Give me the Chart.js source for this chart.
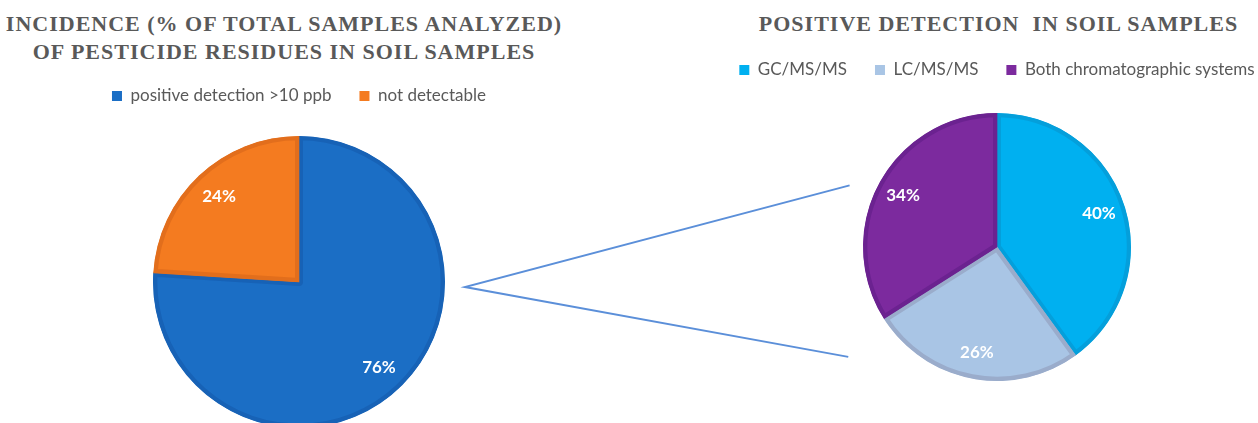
<!DOCTYPE html>
<html>
<head>
<meta charset="utf-8">
<script src="https://cdn.jsdelivr.net/npm/chart.js@4.4.0/dist/chart.umd.min.js"></script>
<style>
    html, body { margin: 0; padding: 0; background: #fff; }
    body { width: 1258px; height: 423px; overflow: hidden; position: relative; }
    .title {
        position: absolute;
        top: 10px;
        text-align: center;
        font: bold 22px "Liberation Serif", serif;
        letter-spacing: 1px;
        line-height: 28px;
        color: #595959;
        white-space: nowrap;
    }
    #titleLeft { left: 0; width: 568px; }
    #titleRight { left: 740px; width: 517px; }
    .box { position: absolute; top: 0; }
    #boxLeft { left: 0; width: 598px; height: 460px; }
    #boxRight { left: 700px; width: 594px; height: 420px; }
    #connector { position: absolute; left: 0; top: 0; }
</style>
</head>
<body>
<div class="title" id="titleLeft">INCIDENCE (% OF TOTAL SAMPLES ANALYZED)<br>OF PESTICIDE RESIDUES IN SOIL SAMPLES</div>
<div class="title" id="titleRight">POSITIVE DETECTION&nbsp; IN SOIL SAMPLES</div>
<div class="box" id="boxLeft"><canvas id="incidenceChart"></canvas></div>
<div class="box" id="boxRight"><canvas id="detectionChart"></canvas></div>
<canvas id="connector" width="1258" height="423"></canvas>

<script>
const incidenceLabels = ['positive detection >10 ppb', 'not detectable'];
const incidenceValues = [76, 24];
const incidenceColors = ['#1b6ec5', '#f47b20'];
const incidenceBorders = ['#1762b6', '#e26e1c'];

const detectionLabels = ['GC/MS/MS', 'LC/MS/MS', 'Both chromatographic systems'];
const detectionValues = [40, 26, 34];
const detectionColors = ['#00b0f0', '#a9c5e5', '#7c2a9e'];
const detectionBorders = ['#049fdb', '#9aaccb', '#6b2290'];

const legendFont = { family: 'Lato', size: 17 };

// white percentage text inside each slice
const sliceLabels = {
    id: 'sliceLabels',
    afterDatasetsDraw(chart) {
        const ctx = chart.ctx;
        const meta = chart.getDatasetMeta(0);
        const values = chart.data.datasets[0].data;
        ctx.save();
        ctx.font = 'bold 17px Lato';
        ctx.fillStyle = '#ffffff';
        ctx.textAlign = 'center';
        ctx.textBaseline = 'middle';
        meta.data.forEach((arc, i) => {
            const { x, y, startAngle, endAngle, outerRadius } =
                arc.getProps(['x', 'y', 'startAngle', 'endAngle', 'outerRadius'], true);
            const mid = (startAngle + endAngle) / 2;
            const r = outerRadius * 0.8;
            ctx.fillText(values[i] + '%', x + Math.cos(mid) * r, y + Math.sin(mid) * r);
        });
        ctx.restore();
    }
};

const plainBoxes = (chart) => {
    const items = Chart.overrides.pie.plugins.legend.labels.generateLabels(chart);
    items.forEach(item => { item.lineWidth = 0; item.strokeStyle = item.fillStyle; });
    return items;
};

const pieOptions = (padding) => ({
    responsive: true,
    maintainAspectRatio: false,
    animation: false,
    events: [],
    layout: { padding },
    plugins: {
        tooltip: { enabled: false },
        legend: {
            position: 'top',
            labels: {
                boxWidth: 10,
                boxHeight: 10,
                padding: 28,
                color: '#595959',
                font: legendFont,
                generateLabels: plainBoxes,
            },
        },
    },
});

const incidenceChart = new Chart(document.getElementById('incidenceChart'), {
    type: 'pie',
    data: {
        labels: incidenceLabels,
        datasets: [{
            data: incidenceValues,
            backgroundColor: incidenceColors,
            borderColor: incidenceBorders,
            borderWidth: 4,
            borderAlign: 'inner',
            radius: 146,
        }],
    },
    options: pieOptions({ top: 59.5, bottom: 10.5, left: 0, right: 0 }),
    plugins: [sliceLabels],
});

const detectionChart = new Chart(document.getElementById('detectionChart'), {
    type: 'pie',
    data: {
        labels: detectionLabels,
        datasets: [{
            data: detectionValues,
            backgroundColor: detectionColors,
            borderColor: detectionBorders,
            borderWidth: 4,
            borderAlign: 'inner',
            radius: 134,
        }],
    },
    options: pieOptions({ top: 33.5, bottom: 14.5, left: 0, right: 0 }),
    plugins: [sliceLabels],
});

// zoom lines from the left pie to the right pie
const drawConnector = () => {
    const a = incidenceChart.getDatasetMeta(0).data[0];
    const b = detectionChart.getDatasetMeta(0).data[0];
    const leftBox = document.getElementById('boxLeft').offsetLeft;
    const rightBox = document.getElementById('boxRight').offsetLeft;
    const sx = leftBox + a.x + a.outerRadius + 20;
    const sy = a.y + 5;
    const bx = rightBox + b.x;
    const r = b.outerRadius;
    const ctx = document.getElementById('connector').getContext('2d');
    ctx.strokeStyle = '#5b8fd9';
    ctx.lineWidth = 2;
    ctx.beginPath();
    ctx.moveTo(bx - r * 1.1, b.y - r * 0.46);
    ctx.lineTo(sx, sy);
    ctx.lineTo(bx - r * 1.11, b.y + r * 0.82);
    ctx.stroke();
};
drawConnector();
</script>
</body>
</html>
